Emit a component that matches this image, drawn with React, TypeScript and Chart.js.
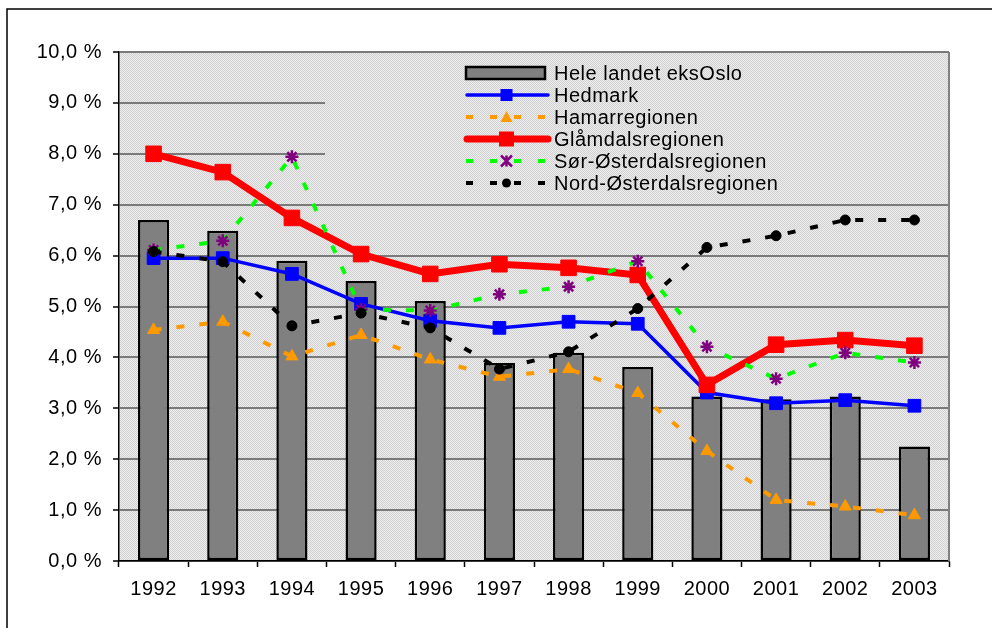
import React, { useEffect, useRef } from "react";
import { Chart, registerables } from "chart.js";

Chart.register(...registerables);

const years = ["1992", "1993", "1994", "1995", "1996", "1997", "1998", "1999", "2000", "2001", "2002", "2003"];
const heleLandet = [6.70, 6.49, 5.90, 5.50, 5.11, 3.89, 4.09, 3.81, 3.23, 3.18, 3.23, 2.25];
const hedmark = [5.95, 5.95, 5.64, 5.05, 4.72, 4.58, 4.70, 4.66, 3.31, 3.10, 3.16, 3.05];
const hamar = [4.54, 4.70, 4.02, 4.44, 3.96, 3.62, 3.77, 3.30, 2.16, 1.20, 1.07, 0.90];
const glamdal = [8.0, 7.64, 6.74, 6.03, 5.64, 5.83, 5.76, 5.62, 3.46, 4.25, 4.34, 4.23];
const sorOster = [6.11, 6.29, 7.94, 4.94, 4.92, 5.24, 5.39, 5.89, 4.21, 3.58, 4.09, 3.90];
const nordOster = [6.08, 5.88, 4.62, 4.87, 4.58, 3.77, 4.11, 4.96, 6.16, 6.39, 6.70, 6.70];

const FONT = "'Liberation Sans', Arial, sans-serif";

function makePattern(ctx: CanvasRenderingContext2D) {
  const c = document.createElement("canvas");
  c.width = 2;
  c.height = 2;
  const p = c.getContext("2d")!;
  p.fillStyle = "#eeeeee";
  p.fillRect(0, 0, 2, 2);
  p.fillStyle = "#d0d0d0";
  p.fillRect(0, 0, 1, 1);
  p.fillRect(1, 1, 1, 1);
  return ctx.createPattern(c, "repeat") || "#e0e0e0";
}

export default function App() {
  const ref = useRef<HTMLCanvasElement>(null);

  useEffect(() => {
    const canvas = ref.current!;
    const bgPlugin = {
      id: "bgPlugin",
      beforeDraw(chart: any) {
        const ctx = chart.ctx as CanvasRenderingContext2D;
        const a = chart.chartArea;
        ctx.save();
        ctx.fillStyle = "#ffffff";
        ctx.fillRect(0, 0, chart.width, chart.height);
        ctx.fillStyle = makePattern(ctx);
        ctx.fillRect(a.left, a.top, a.right - a.left, a.bottom - a.top);
        ctx.restore();
        (ctx as any).letterSpacing = "0.5px";
      },
      beforeDatasetsDraw(chart: any) {
        const ctx = chart.ctx as CanvasRenderingContext2D;
        const a = chart.chartArea;
        ctx.save();
        ctx.strokeStyle = "#808080";
        ctx.lineWidth = 2;
        ctx.beginPath();
        ctx.moveTo(a.right, a.top);
        ctx.lineTo(a.right, a.bottom);
        ctx.stroke();
        ctx.restore();
      },
      afterDraw(chart: any) {
        const ctx = chart.ctx as CanvasRenderingContext2D;
        const a = chart.chartArea;
        ctx.save();
        // legend box
        ctx.fillStyle = makePattern(ctx);
        const lx = 325, ly = 56, lw = a.right - 1 - lx, lh = 140;
        ctx.fillRect(lx, ly, lw, lh);
        const rows = [
          { label: "Hele landet eksOslo", type: "bar" },
          { label: "Hedmark", color: "#0000ff", width: 3.5, dash: [], marker: "square", msize: 12, mcolor: "#0000ff" },
          { label: "Hamarregionen", color: "#ff9900", width: 4, dash: [7, 17], marker: "triangle", msize: 12, mcolor: "#ff9900" },
          { label: "Glåmdalsregionen", color: "#ff0000", width: 7, dash: [], marker: "square", msize: 15, mcolor: "#ff0000" },
          { label: "Sør-Østerdalsregionen", color: "#00ff00", width: 4, dash: [7, 17], marker: "star", msize: 11, mcolor: "#800080" },
          { label: "Nord-Østerdalsregionen", color: "#000000", width: 4, dash: [7, 17], marker: "circle", msize: 9, mcolor: "#000000" },
        ];
        const x0 = 465, x1 = 548, xm = (x0 + x1) / 2;
        rows.forEach((r: any, i) => {
          const y = 73 + i * 22;
          if (r.type === "bar") {
            ctx.fillStyle = "#808080";
            ctx.fillRect(466, y - 6, 79, 12);
            ctx.strokeStyle = "#000";
            ctx.lineWidth = 2.5;
            ctx.strokeRect(466, y - 6, 79, 12);
          } else {
            ctx.strokeStyle = r.color;
            ctx.lineWidth = r.width;
            ctx.lineCap = "butt";
            ctx.setLineDash(r.dash);
            ctx.beginPath();
            if (r.dash.length) {
              ctx.lineDashOffset = 0;
              ctx.moveTo(x0 + 1, y);
            } else {
              ctx.lineCap = "round";
              ctx.moveTo(x0 + 2, y);
            }
            ctx.lineTo(x1, y);
            ctx.stroke();
            ctx.setLineDash([]);
            ctx.fillStyle = r.mcolor;
            ctx.strokeStyle = r.mcolor;
            const s = r.msize;
            if (r.marker === "square") {
              ctx.fillRect(xm - s / 2, y - s / 2, s, s);
            } else if (r.marker === "triangle") {
              ctx.beginPath();
              ctx.moveTo(xm, y - s / 2);
              ctx.lineTo(xm + s / 2, y + s / 2 - 1);
              ctx.lineTo(xm - s / 2, y + s / 2 - 1);
              ctx.closePath();
              ctx.fill();
            } else if (r.marker === "circle") {
              ctx.beginPath();
              ctx.arc(xm, y, s / 2, 0, Math.PI * 2);
              ctx.fill();
            } else if (r.marker === "star") {
              ctx.lineWidth = 2.5;
              const h = s / 2;
              ctx.beginPath();
              ctx.moveTo(xm - h, y - h); ctx.lineTo(xm + h, y + h);
              ctx.moveTo(xm + h, y - h); ctx.lineTo(xm - h, y + h);
              ctx.moveTo(xm, y - h); ctx.lineTo(xm, y + h);
              ctx.stroke();
            }
          }
          ctx.fillStyle = "#000";
          ctx.font = `20px ${FONT}`;
          ctx.textBaseline = "middle";
          ctx.textAlign = "left";
          (ctx as any).letterSpacing = "0.5px";
          ctx.fillText(r.label, 554, y + 1);
        });
        // outer frame
        ctx.strokeStyle = "#000";
        ctx.lineWidth = 1.5;
        ctx.beginPath();
        ctx.moveTo(7, 628);
        ctx.lineTo(7, 9);
        ctx.lineTo(992, 9);
        ctx.stroke();
        ctx.restore();
      },
    };

    const lineDs = (label: string, data: number[], color: string, width: number, dash: number[], style: string, radius: number, pcolor: string, order: number, pbw = 1) => ({
      type: "line" as const,
      label,
      data,
      borderColor: color,
      borderWidth: width,
      borderDash: dash,
      pointStyle: style,
      pointRadius: radius,
      pointBackgroundColor: pcolor,
      pointBorderColor: pcolor,
      pointBorderWidth: pbw,
      fill: false,
      tension: 0,
      order,
    });

    const chart = new Chart(canvas, {
      type: "bar",
      data: {
        labels: years,
        datasets: [
          {
            type: "bar",
            label: "Hele landet eksOslo",
            data: heleLandet,
            backgroundColor: "#808080",
            borderColor: "#000000",
            borderWidth: 2.5,
            borderSkipped: false,
            barPercentage: 0.45,
            categoryPercentage: 1,
            order: 10,
          } as any,
          lineDs("Hedmark", hedmark, "#0000ff", 3.5, [], "rect", 9, "#0000ff", 5),
          lineDs("Hamarregionen", hamar, "#ff9900", 4, [8, 15], "triangle", 7, "#ff9900", 4),
          lineDs("Glåmdalsregionen", glamdal, "#ff0000", 7, [], "rect", 11, "#ff0000", 3),
          lineDs("Sør-Østerdalsregionen", sorOster, "#00ff00", 4, [8, 15], "star", 6.5, "#800080", 2, 2.5),
          lineDs("Nord-Østerdalsregionen", nordOster, "#000000", 4, [8, 15], "circle", 5, "#000000", 1),
        ] as any,
      },
      options: {
        responsive: false,
        animation: false,
        devicePixelRatio: 1,
        layout: { padding: { left: 0, top: 52, right: 43, bottom: 0 } },
        plugins: {
          legend: { display: false },
          tooltip: { enabled: false },
          title: { display: false },
        },
        scales: {
          x: {
            type: "category",
            offset: true,
            afterFit: (s: any) => { s.height = 67; },
            grid: {
              display: true,
              drawOnChartArea: false,
              drawTicks: true,
              tickLength: 6,
              tickColor: "#000000",
              tickWidth: 1.5,
              offset: true,
            },
            border: { display: true, color: "#000000", width: 1.5 },
            ticks: {
              color: "#000000",
              font: { family: FONT, size: 20 },
              padding: 10,
              maxRotation: 0,
              autoSkip: false,
            },
          },
          y: {
            min: 0,
            max: 10,
            afterFit: (s: any) => { s.width = 119; },
            grid: {
              color: "#7a7a7a",
              lineWidth: 2,
              drawTicks: true,
              tickLength: 6,
              tickColor: "#000000",
              tickWidth: 1.5,
            },
            border: { display: true, color: "#000000", width: 1.5 },
            ticks: {
              stepSize: 1,
              color: "#000000",
              font: { family: FONT, size: 20 },
              padding: 11,
              callback: (v: any) => Number(v).toFixed(1).replace(".", ",") + " %",
            },
          },
        },
      } as any,
      plugins: [bgPlugin],
    });
    return () => chart.destroy();
  }, []);

  return (
    <div style={{ position: "absolute", left: 0, top: 0, width: 992, height: 628 }}>
      <canvas ref={ref} width={992} height={628} style={{ width: 992, height: 628, display: "block" }} />
    </div>
  );
}
